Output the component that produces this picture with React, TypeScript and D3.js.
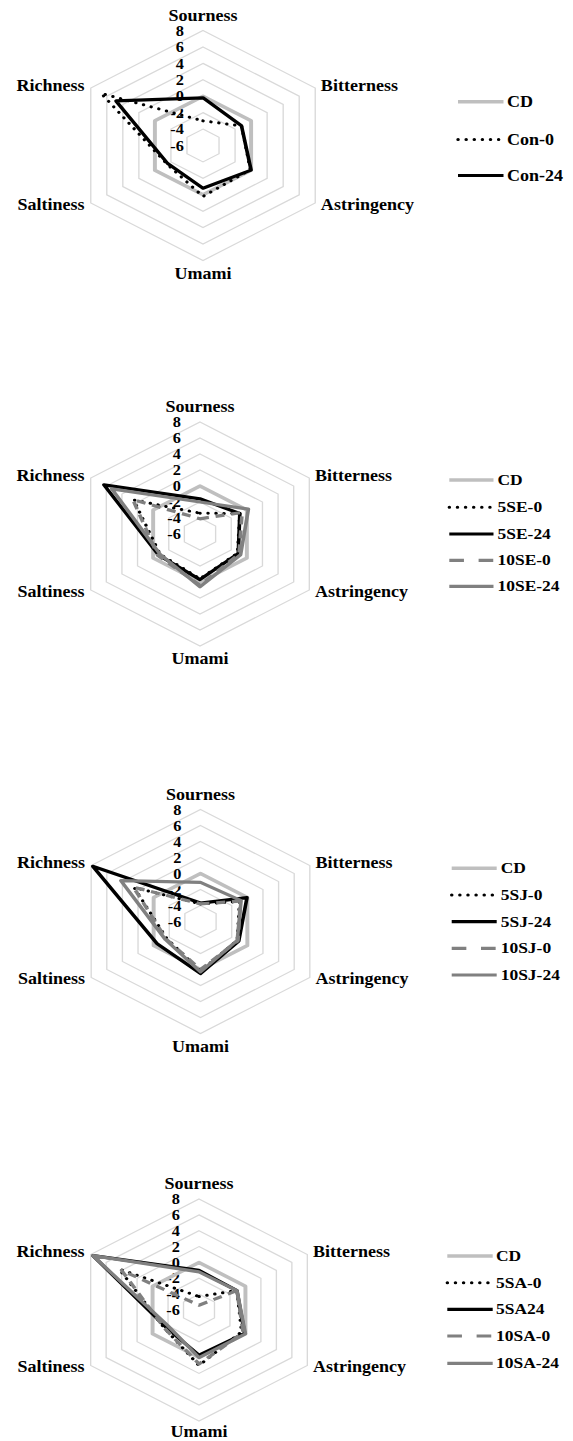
import React from "react";
import * as d3 from "d3";

const AXES = ["Sourness", "Bitterness", "Astringency", "Umami", "Saltiness", "Richness"];
const TICKS = [8, 6, 4, 2, 0, -2, -4, -6];
const DOMAIN: [number, number] = [-6, 8];

// Chart 1
const names1 = ["CD", "Con-0", "Con-24"];
const cd1 = [0, 0, 0, 0, 0, 0];
const con0 = [-3.0, -1.2, -0.1, 0.2, -1.5, 6.7];
const con24 = [-0.2, -1.2, 0.0, -0.8, -1.6, 4.85];

// Chart 2
const names2 = ["CD", "5SE-0", "5SE-24", "10SE-0", "10SE-24"];
const cd2 = [0, 0, 0, 0, 0, 0];
const se5_0 = [-3.4, -0.9, -1.2, -0.4, -0.9, 2.5];
const se5_24 = [-1.6, -0.9, -1.1, -0.3, -0.7, 6.3];
const se10_0 = [-4.1, -0.6, -1.0, 0.4, -0.6, 2.6];
const se10_24 = [-2.0, 0.2, -0.8, 0.6, -0.9, 5.3];

// Chart 3
const names3 = ["CD", "5SJ-0", "5SJ-24", "10SJ-0", "10SJ-24"];
const cd3 = [0, 0, 0, 0, 0, 0];
const sj5_0 = [-3.8, -1.0, -1.3, 0.2, -1.7, 2.5];
const sj5_24 = [-3.7, -0.05, -1.1, 0.5, -0.45, 7.8];
const sj10_0 = [-3.8, -0.9, -1.2, 0.0, -1.6, 2.6];
const sj10_24 = [-1.1, -0.8, -1.3, 0.3, -1.5, 4.2];

// Chart 4
const names4 = ["CD", "5SA-0", "5SA24", "10SA-0", "10SA-24"];
const cd4 = [0, 0, 0, 0, 0, 0];
const sa5_0 = [-4.3, -1.1, -0.5, 1.0, -1.5, 4.3];
const sa5_24 = [-1.0, -1.1, -0.1, -0.3, -1.7, 7.7];
const sa10_0 = [-5.4, -1.1, -0.3, 0.8, -1.5, 4.0];
const sa10_24 = [-1.2, -1.1, 0.0, 0.0, -2.0, 7.7];

const SX = 1.127; // horizontal stretch of the original picture
const FONT = "'Liberation Serif', 'Times New Roman', serif";

type Sty = { stroke: string; width: number; dash?: string; legendDash?: string; cap?: string };
const ST_CD: Sty = { stroke: "#bfbfbf", width: 3.5 };
const ST_DOT: Sty = { stroke: "#000", width: 3, dash: "0.1 7", legendDash: "0.1 7.1", cap: "round" };
const ST_BLACK: Sty = { stroke: "#000", width: 3.2 };
const ST_GDASH: Sty = { stroke: "#808080", width: 3.2, dash: "8 6", legendDash: "13 13" };
const ST_GREY: Sty = { stroke: "#808080", width: 3.2 };

const charts = [
  {
    cx: 203, cy: 145.5, R: 115, names: names1, data: [cd1, con0, con24],
    styles: [ST_CD, ST_DOT, ST_BLACK], umamiDy: 13,
    lx0: 458, lx1: 503.5, tx: 507, ly: [101.7, 139.5, 175.5], font: 16,
  },
  {
    cx: 200, cy: 534, R: 112, names: names2, data: [cd2, se5_0, se5_24, se10_0, se10_24],
    styles: [ST_CD, ST_DOT, ST_BLACK, ST_GDASH, ST_GREY], umamiDy: 13,
    lx0: 449.3, lx1: 493.5, tx: 497.5, ly: [480, 507.3, 534, 560.3, 586.3], font: 15.5,
  },
  {
    cx: 200.5, cy: 921.5, R: 112, names: names3, data: [cd3, sj5_0, sj5_24, sj10_0, sj10_24],
    styles: [ST_CD, ST_DOT, ST_BLACK, ST_GDASH, ST_GREY], umamiDy: 13,
    lx0: 451.7, lx1: 496.7, tx: 500.7, ly: [868.3, 895, 921.7, 948.3, 975], font: 15.5,
  },
  {
    cx: 199, cy: 1310, R: 111, names: names4, data: [cd4, sa5_0, sa5_24, sa10_0, sa10_24],
    styles: [ST_CD, ST_DOT, ST_BLACK, ST_GDASH, ST_GREY], umamiDy: 10.5,
    lx0: 447.3, lx1: 492.7, tx: 496, ly: [1256, 1282.7, 1309.3, 1336, 1363.3], font: 15.5,
  },
];

function Radar({ c }: { c: typeof charts[number] }) {
  const r = d3.scaleLinear().domain(DOMAIN).range([0, c.R]);
  const ang = (i: number) => (i * 2 * Math.PI) / AXES.length;
  const line = d3
    .lineRadial<number>()
    .angle((_, i) => ang(i))
    .radius((d) => r(d))
    .curve(d3.curveLinearClosed);
  const gridLine = d3
    .lineRadial<number>()
    .angle((_, i) => ang(i))
    .radius((d) => d)
    .curve(d3.curveLinearClosed);
  const gridVals = TICKS.filter((t) => t > DOMAIN[0]);
  const R = c.R;
  const sideX = R * Math.cos(Math.PI / 6);
  const labelPos = [
    { x: 0, y: -(R + 15), anchor: "middle" },
    { x: sideX + 5, y: -(R * 0.5 + 2.5), anchor: "start" },
    { x: sideX + 5, y: R * 0.5 + 1.5, anchor: "start" },
    { x: 0, y: R + c.umamiDy, anchor: "middle" },
    { x: -(sideX + 5.5), y: R * 0.5 + 1.5, anchor: "end" },
    { x: -(sideX + 5.5), y: -(R * 0.5 + 2.5), anchor: "end" },
  ];
  return (
    <g>
      <g transform={`translate(${c.cx / SX},${c.cy})`}>
        {gridVals.map((t) => (
          <path
            key={t}
            d={gridLine(AXES.map(() => r(t))) || ""}
            fill="none"
            stroke="#d9d9d9"
            strokeWidth={1.2}
          />
        ))}
        {TICKS.map((t) => (
          <text
            key={t}
            x={-17}
            y={-r(t)}
            textAnchor="end"
            dominantBaseline="central"
            fontSize={14.5}
            fontWeight="bold"
            fontFamily={FONT}
          >
            {t}
          </text>
        ))}
        {c.data.map((d, i) => {
          const s = c.styles[i];
          return (
            <path
              key={i}
              d={line(d) || ""}
              fill="none"
              stroke={s.stroke}
              strokeWidth={s.width}
              strokeDasharray={s.dash}
              strokeLinecap={(s.cap as any) || "butt"}
              strokeLinejoin="round"
            />
          );
        })}
        {AXES.map((a, i) => (
          <text
            key={a}
            x={labelPos[i].x}
            y={labelPos[i].y}
            textAnchor={labelPos[i].anchor as any}
            dominantBaseline="central"
            fontSize={16}
            fontWeight="bold"
            fontFamily={FONT}
          >
            {a}
          </text>
        ))}
      </g>
      <g>
        {c.names.map((n, i) => {
          const s = c.styles[i];
          return (
            <g key={n}>
              <line
                x1={c.lx0 / SX}
                x2={c.lx1 / SX}
                y1={c.ly[i]}
                y2={c.ly[i]}
                stroke={s.stroke}
                strokeWidth={s.width}
                strokeDasharray={s.legendDash}
                strokeLinecap={(s.cap as any) || "butt"}
              />
              <text
                x={c.tx / SX}
                y={c.ly[i]}
                dominantBaseline="central"
                fontSize={c.font}
                fontWeight="bold"
                fontFamily={FONT}
              >
                {n}
              </text>
            </g>
          );
        })}
      </g>
    </g>
  );
}

export default function App() {
  return (
    <svg
      width={573}
      height={1441}
      style={{ position: "absolute", left: 0, top: 0, background: "#fff" }}
    >
      <rect width={573} height={1441} fill="#fff" />
      <g transform={`scale(${SX},1)`}>
        {charts.map((c, i) => (
          <Radar key={i} c={c} />
        ))}
      </g>
    </svg>
  );
}
